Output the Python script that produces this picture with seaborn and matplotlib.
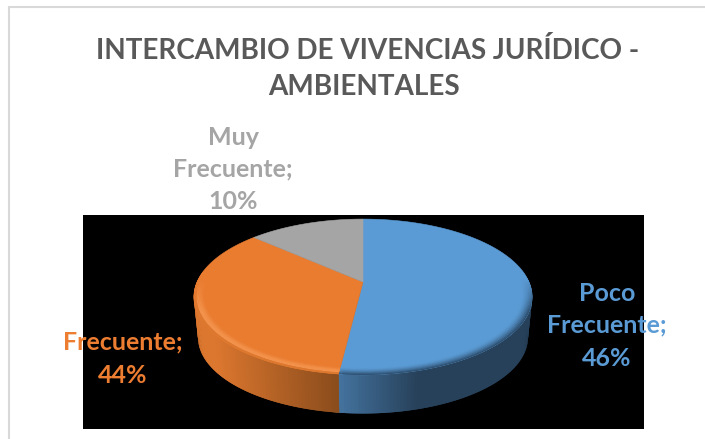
import numpy as np
import matplotlib
matplotlib.use("Agg")
import matplotlib.pyplot as plt
import seaborn as sns
from matplotlib.collections import PolyCollection
from matplotlib.lines import Line2D
from matplotlib.patches import PathPatch
from matplotlib.path import Path

# Data. The printed labels and the drawn slice sizes differ in the reference.
categories = ["Poco\nFrecuente;", "Frecuente;", "Muy\nFrecuente;"]
label_percent = [46, 44, 10]
drawn_share = [51.9, 34.8, 13.3]
top_colors = ["#5b9bd5", "#ea7c30", "#a5a5a5"]

W, H = 705, 439
sns.set_theme(style="white")
plt.rcParams["font.family"] = ["Lato", "DejaVu Sans"]

fig = plt.figure(figsize=((W + 0.01) / 100, (H + 0.01) / 100), dpi=100, facecolor="white")
fx = lambda p: p / W
fy = lambda p: 1 - p / H

ax = fig.add_axes([fx(83), fy(429), (644 - 83) / W, (429 - 215) / H])
wedges, _ = ax.pie(drawn_share, colors=top_colors, startangle=90, counterclock=False, radius=1)
ax.set_aspect("auto")
ax.set_xlim(83, 644)
ax.set_ylim(429, 215)
ax.set_frame_on(True)
ax.set_facecolor("black")
for s in ax.spines.values():
    s.set_visible(False)

# perspective projection of the unit disc into pixel-based data coordinates
CX, CY, SX, SY, K = 363, 282, 166, 75, 0.192
def project(x, y, drop=0.0, shrink=1.0):
    w = 1 + K * y
    return CX + shrink * SX * x / w, CY - shrink * SY * y / w + drop

spans = [(w.theta1, w.theta2) for w in wedges]
for w in wedges:
    w.remove()

def arc(a, b, step):
    return np.radians(np.linspace(a, b, int(round((b - a) / step)) + 1))

DEPTH, SHRINK = 41, 0.975
def mix(c1, c2, f):
    c1, c2 = np.array(matplotlib.colors.to_rgb(c1)), np.array(matplotlib.colors.to_rgb(c2))
    return tuple(c1 + (c2 - c1) * f)

def wall_color(i, px):
    if i == 0:
        return mix("#44739f", "#27415a", np.clip((px - 340) / 80, 0, 1))
    if i == 1:
        return mix("#dc772f", "#8a4c1c", np.clip((px - 215) / 125, 0, 1))
    return "#6f6f6f"

# side wall: overlapping strips, painted one after another, so no seams show
polys, cols = [], []
for i, (a, b) in enumerate(spans):
    th = arc(a - 1.5, b, 1.0)
    x, y = np.cos(th), np.sin(th)
    for j in range(len(th) - 1):
        if y[j] > 0.15 and y[j + 1] > 0.15:
            continue
        n = min(j + 2, len(th) - 1)
        x0, y0 = project(x[j], y[j])
        x1, y1 = project(x[n], y[n])
        x2, y2 = project(x[n], y[n], DEPTH, SHRINK)
        x3, y3 = project(x[j], y[j], DEPTH, SHRINK)
        polys.append([(x0, y0), (x1, y1), (x2, y2), (x3, y3)])
        cols.append(wall_color(i, (x0 + x1) / 2))
ax.add_collection(PolyCollection(polys, facecolors=cols, edgecolors="none", zorder=2))

# top surface, from the pie's own wedge angles
for (a, b), c in zip(spans, top_colors):
    th = arc(a, b, 0.5)
    xs, ys = project(np.cos(th), np.sin(th))
    cx0, cy0 = project(0, 0)
    verts = np.column_stack([np.r_[cx0, xs, cx0], np.r_[cy0, ys, cy0]])
    ax.add_patch(PathPatch(Path(verts, closed=True), facecolor=c, edgecolor=c, lw=0.4, zorder=3))

# bevel along the front rim
rim_targets = [("#5b9bd5", "#2b4a68"), ("#f79a55", "#d8772f"), ("#a5a5a5", "#a5a5a5")]
radii = np.linspace(0.94, 1.0, 9)
polys, cols = [], []
for i, (a, b) in enumerate(spans):
    th = arc(a, b, 1.0)
    for j in range(len(th) - 1):
        t = 0.5 * (th[j] + th[j + 1])
        front = np.clip(-np.sin(t) * 2.5 + 0.1, 0, 1)
        if front <= 0:
            continue
        n = min(j + 2, len(th) - 1)
        for k in range(len(radii) - 1):
            r0, r1 = radii[k], radii[k + 1]
            f = (k + 0.5) / (len(radii) - 1)
            pts = []
            for r, tt in [(r0, th[j]), (r0, th[n]), (r1, th[n]), (r1, th[j])]:
                pts.append(project(r * np.cos(tt), r * np.sin(tt)))
            base, target = rim_targets[i]
            if i == 1:
                amt = np.sin(f * np.pi * 0.75) * front
                col = mix(top_colors[i], target if f > 0.7 else base, amt * 0.8)
            else:
                col = mix(top_colors[i], target, f ** 1.5 * front)
            polys.append(pts)
            cols.append(col)
ax.add_collection(PolyCollection(polys, facecolors=cols, edgecolors="none", zorder=4))

# chart frame
for xs_, ys_ in [((8.5, 8.5), (7, 439)), ((8.5, 705), (7, 7))]:
    fig.add_artist(Line2D([fx(v) for v in xs_], [fy(v) for v in ys_], color="#d9d9d9", lw=1.5))

# title
TITLE = "#595959"
fig.text(fx(368), fy(50), "INTERCAMBIO DE VIVENCIAS JURÍDICO -", ha="center", va="center",
         fontsize=20.1, fontweight="bold", color=TITLE)
fig.text(fx(364), fy(87), "AMBIENTALES", ha="center", va="center",
         fontsize=20.1, fontweight="bold", color=TITLE)

# data labels
label_colors = ["#5b9bd5", "#ed7d31", "#a5a5a5"]
label_pos = [(607, [293, 325, 358]), (123, [342, 375]), (233, [137, 169, 201])]
for cat, pct, c, (lx, lys) in zip(categories, label_percent, label_colors, label_pos):
    lines = cat.split("\n") + [f"{pct}%"]
    for line, ly in zip(lines, lys):
        fig.text(fx(lx), fy(ly), line, ha="center", va="center", fontsize=18,
                 fontweight="bold", color=c, zorder=10)

fig.savefig("out.png", dpi=100, facecolor="white")
